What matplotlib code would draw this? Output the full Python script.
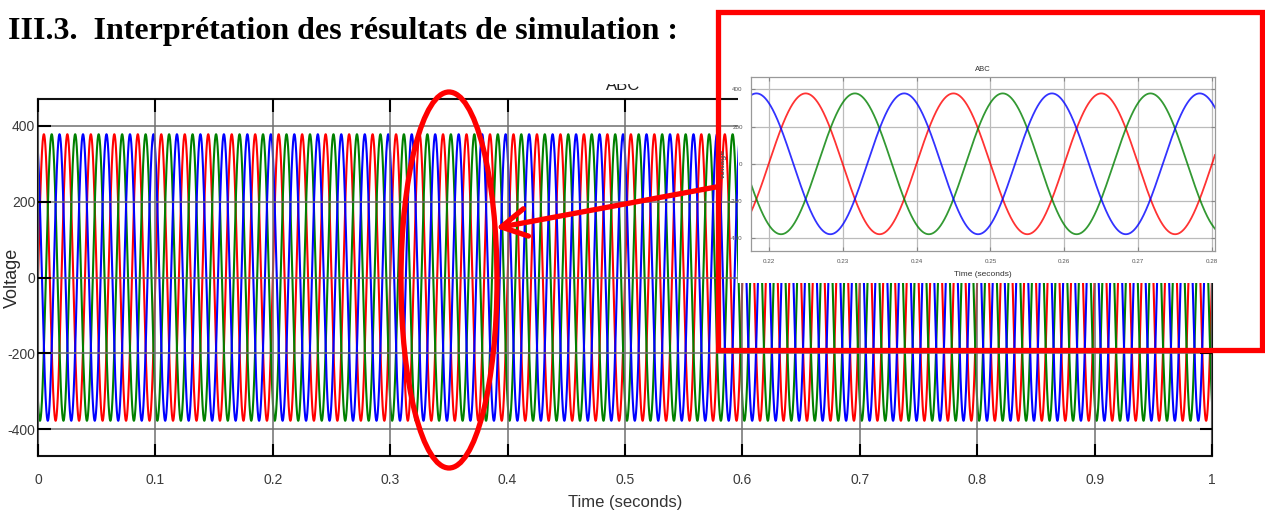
import numpy as np
import matplotlib
matplotlib.use('Agg')
import matplotlib.pyplot as plt
from matplotlib.patches import Rectangle, Ellipse, FancyArrowPatch, ArrowStyle

plt.rcParams['axes.unicode_minus'] = False

# three-phase supply
phase_names = ['A', 'B', 'C']
phase_colors = ['#ff0000', '#008000', '#0000ff']
amplitude = 378.0          # V peak
frequency = 50.0           # Hz
phase_shift = [0.0, -2 * np.pi / 3, 2 * np.pi / 3]   # rad

t_main = (0.0, 1.0)
t_zoom = (0.2176, 0.2804)
main_xticks = [0, 0.1, 0.2, 0.3, 0.4, 0.5, 0.6, 0.7, 0.8, 0.9, 1]
main_xticklabels = ['0', '0.1', '0.2', '0.3', '0.4', '0.5', '0.6', '0.7', '0.8', '0.9', '1']
zoom_xticks = [0.22, 0.23, 0.24, 0.25, 0.26, 0.27, 0.28]
yticks = [-400, -200, 0, 200, 400]

heading = 'III.3.  Interprétation des résultats de simulation :'

W, H = 1265, 517
fig = plt.figure(figsize=(W / 100, H / 100), dpi=100)
fig.patch.set_facecolor('white')


def fx(px):
    return px / W


def fy(py):
    return 1 - py / H


sans = 'Liberation Sans'

fig.text(fx(8), fy(39), heading, family='Liberation Serif', weight='bold',
         fontsize=23, ha='left', va='baseline')

# main scope window
ax = fig.add_axes([fx(38), fy(456), fx(1212 - 38), (456 - 99) / H])
t = np.linspace(t_main[0], t_main[1], 40001)
for name, c, ph in zip(phase_names, phase_colors, phase_shift):
    ax.plot(t, amplitude * np.sin(2 * np.pi * frequency * t + ph), color=c, lw=1.5)
ax.set_xlim(t_main)
ax.set_ylim(-471, 471)
ax.set_xticks(main_xticks)
ax.set_xticklabels(main_xticklabels)
ax.set_yticks(yticks)
ax.grid(True, color='#6f6f6f', lw=1.1)
ax.set_axisbelow(False)
ax.tick_params(direction='in', length=9, width=1.5, top=True, right=True,
               labelsize=10, labelcolor='#3a3a3a')
ax.tick_params(axis='x', pad=12)
ax.tick_params(axis='y', pad=2)
for lab in ax.get_xticklabels() + ax.get_yticklabels():
    lab.set_family(sans)
for s in ax.spines.values():
    s.set_linewidth(1.5)
    s.set_color('#111111')
ax.set_xlabel('Time (seconds)', family=sans, fontsize=12, color='#333333', labelpad=6)
ax.set_ylabel('Voltage', family=sans, fontsize=13, color='#2a2a2a')
ax.yaxis.set_label_coords(-0.0145, 0.5)

# scope title, its top is cut off in the capture
fig.text(fx(623), fy(90), 'ABC', family=sans, fontsize=12, ha='center',
         va='baseline', color='#222222', zorder=1)
fig.patches.append(Rectangle((fx(590), fy(84)), fx(70), 27 / H,
                             transform=fig.transFigure, facecolor='white',
                             edgecolor='none', zorder=6))

# pasted zoom capture
fig.patches.append(Rectangle((fx(738), fy(283)), fx(1245 - 738), (283 - 45) / H,
                             transform=fig.transFigure, facecolor='white',
                             edgecolor='none', zorder=3))
ins = fig.add_axes([fx(751), fy(251), fx(1215 - 751), (251 - 77) / H], zorder=4)
tz = np.linspace(t_zoom[0], t_zoom[1], 3000)
for name, c, ph in zip(phase_names, phase_colors, phase_shift):
    ins.plot(tz, amplitude * np.sin(2 * np.pi * frequency * tz + ph), color=c,
             lw=1.3, alpha=0.8)
ins.set_xlim(t_zoom)
ins.set_ylim(-468, 466)
ins.set_xticks(zoom_xticks)
ins.set_yticks(yticks)
ins.grid(True, color='#bbbbbb', lw=0.9)
ins.tick_params(direction='in', length=3, top=True, right=True, labelsize=4.5,
                labelcolor='#555555', color='#888888', pad=6)
for lab in ins.get_xticklabels() + ins.get_yticklabels():
    lab.set_family(sans)
for s in ins.spines.values():
    s.set_linewidth(0.9)
    s.set_color('#999999')
ins.set_title('ABC', family=sans, fontsize=5.5, color='#333333', pad=4)
ins.set_xlabel('Time (seconds)', family=sans, fontsize=6, color='#333333', labelpad=5)
ins.set_ylabel('Voltage', family=sans, fontsize=6, weight='bold', color='#555555', labelpad=2)

# red annotations
fig.patches.append(Rectangle((fx(718), fy(350)), fx(1262 - 718), (350 - 12) / H,
                             transform=fig.transFigure, facecolor='none',
                             edgecolor='#ff0000', lw=3.8, zorder=10))
fig.patches.append(Ellipse((fx(449), fy(280)), fx(96), 376 / H,
                           transform=fig.transFigure, facecolor='none',
                           edgecolor='#ff0000', lw=3.8, zorder=10))
fig.patches.append(FancyArrowPatch((fx(716), fy(187)), (fx(496), fy(228)),
                                   transform=fig.transFigure,
                                   arrowstyle=ArrowStyle('->', head_length=0.9, head_width=0.5),
                                   mutation_scale=20, color='#ff0000', lw=3.8,
                                   shrinkA=0, shrinkB=0, zorder=10))

fig.savefig('out.png', dpi=100)
